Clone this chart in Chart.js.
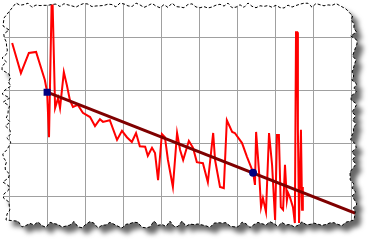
<!DOCTYPE html>
<html>
<head>
<meta charset="utf-8">
<script src="https://cdn.jsdelivr.net/npm/chart.js@4.4.1/dist/chart.umd.min.js"></script>
<style>
  html, body { margin: 0; padding: 0; background: #fff; }
  canvas { display: block; }
</style>
</head>
<body>
<canvas id="chart" width="372" height="240"></canvas>
<script>
// measured series (x in grid units of 10, y in grid units of 10)
const seriesX = [0.7, 3.0, 5.1, 7.0, 9.3, 9.9, 10.4, 11.2, 12.0, 12.8, 13.3, 14.3, 15.1, 15.9, 16.7, 18.0,
  19.3, 21.2, 22.5, 23.8, 24.6, 26.4, 28.3, 29.6, 30.9, 32.2, 33.3, 34.3, 35.7, 36.4, 37.5, 38.3,
  39.1, 40.1, 40.9, 41.7, 43.0, 44.1, 44.9, 45.7, 47.2, 48.3, 49.3, 50.9, 52.2, 53.6, 54.1, 55.4,
  56.4, 57.2, 58.6, 59.3, 61.2, 62.5, 64.1, 64.6, 64.9, 65.7, 66.2, 66.7, 67.5, 68.3, 69.1, 69.9,
  70.4, 70.9, 71.4, 72.0, 72.5, 73.0, 73.3, 73.8, 74.6, 75.1, 75.4, 75.7, 75.9, 76.2, 76.7, 77.0, 77.2];
const seriesY = [28.9, 23.2, 27.0, 27.2, 21.9, 19.6, 11.1, 40.8, 16.6, 18.5, 16.6, 23.4, 20.9, 18.1, 16.8, 17.2,
  15.7, 14.9, 13.2, 14.5, 14.0, 14.3, 10.6, 12.3, 11.1, 10.2, 11.9, 9.4, 9.3, 7.6, 9.1, 8.1,
  3.0, 11.7, 11.1, 6.8, 1.7, 11.9, 8.7, 6.8, 10.4, 9.1, 6.4, 6.2, 2.6, 11.9, 6.8, 1.7,
  1.5, 14.3, 12.1, 11.9, 10.0, 7.4, 4.5, 2.1, 12.1, 4.3, -2.1, -0.4, -3.0, 11.9, 5.9, -4.5,
  11.5, 11.5, -2.1, -2.6, 5.9, -0.8, 0.6, -0.2, -2.1, -5.1, 30.9, 30.9, 12.5, -5.1, 12.5, -2.6, 1.7];

const trendX = [9.9, 95.4];
const trendY = [19.6, -4.5];

const markX = [9.9, 64.1];
const markY = [19.6, 4.4];

const xMin = -2.5, xMax = 95.4;
const yMin = -8.3, yMax = 37.0;

function tornEdge() {
  const pts = [];
  let seed = 11;
  const rnd = () => { seed = (seed * 16807) % 2147483647; return seed / 2147483647; };
  pts.push([4, 18]);
  for (let x = 16; x < 340; x += 4) pts.push([x, 3 + rnd() * 5]);
  pts.push([346, 9]);
  for (let y = 16; y < 214; y += 4) pts.push([350 + rnd() * 7, y]);
  pts.push([354, 220]);
  for (let x = 346; x > 14; x -= 4) pts.push([x, 221 + rnd() * 7]);
  pts.push([6, 220]);
  for (let y = 214; y > 22; y -= 4) pts.push([2 + rnd() * 9, y]);
  return pts;
}
const edge = tornEdge();

function edgePath(ctx) {
  ctx.beginPath();
  edge.forEach((p, i) => (i ? ctx.lineTo(p[0], p[1]) : ctx.moveTo(p[0], p[1])));
  ctx.closePath();
}

const paperPlugin = {
  id: 'paper',
  beforeDraw(chart) {
    const ctx = chart.ctx;
    ctx.save();
    ctx.fillStyle = '#fff';
    ctx.fillRect(0, 0, chart.width, chart.height);
    ctx.shadowColor = 'rgba(0,0,0,0.6)';
    ctx.shadowBlur = 5;
    ctx.shadowOffsetX = 6;
    ctx.shadowOffsetY = 6;
    edgePath(ctx);
    ctx.fill();
    ctx.restore();
    ctx.save();
    edgePath(ctx);
    ctx.clip();
  },
  afterDraw(chart) {
    const ctx = chart.ctx;
    ctx.restore();
    ctx.save();
    ctx.strokeStyle = '#000';
    ctx.lineWidth = 1;
    ctx.setLineDash([3, 2]);
    edgePath(ctx);
    ctx.stroke();
    ctx.restore();
  }
};

const toPoints = (xs, ys) => xs.map((x, i) => ({ x, y: ys[i] }));

function gridTicks(scale) {
  const ticks = [];
  for (let v = Math.ceil(scale.min / 10) * 10; v <= scale.max; v += 10) ticks.push({ value: v });
  scale.ticks = ticks;
}

document.addEventListener('DOMContentLoaded', () => {
  const ctx = document.getElementById('chart').getContext('2d');
  new Chart(ctx, {
    type: 'line',
    data: {
      datasets: [
        {
          data: toPoints(markX, markY),
          showLine: false,
          pointStyle: ['rect', 'circle'],
          pointRadius: [5, 4],
          backgroundColor: '#000080',
          borderColor: '#000080',
          borderWidth: 0
        },
        {
          data: toPoints(trendX, trendY),
          borderColor: '#7f0000',
          borderWidth: 3,
          pointRadius: 0,
          tension: 0
        },
        {
          data: toPoints(seriesX, seriesY),
          borderColor: '#ff0000',
          borderWidth: 2,
          pointRadius: 0,
          tension: 0
        }
      ]
    },
    options: {
      responsive: false,
      animation: false,
      devicePixelRatio: 1,
      layout: { padding: 0, autoPadding: false },
      plugins: { legend: { display: false }, tooltip: { enabled: false } },
      scales: {
        x: {
          type: 'linear', min: xMin, max: xMax,
          afterBuildTicks: gridTicks,
          ticks: { display: false },
          border: { display: false },
          grid: { color: '#a0a0a0', lineWidth: 1, drawTicks: false }
        },
        y: {
          type: 'linear', min: yMin, max: yMax,
          afterBuildTicks: gridTicks,
          ticks: { display: false },
          border: { display: false },
          grid: { color: '#a0a0a0', lineWidth: 1, drawTicks: false }
        }
      }
    },
    plugins: [paperPlugin]
  });
});
</script>
</body>
</html>
